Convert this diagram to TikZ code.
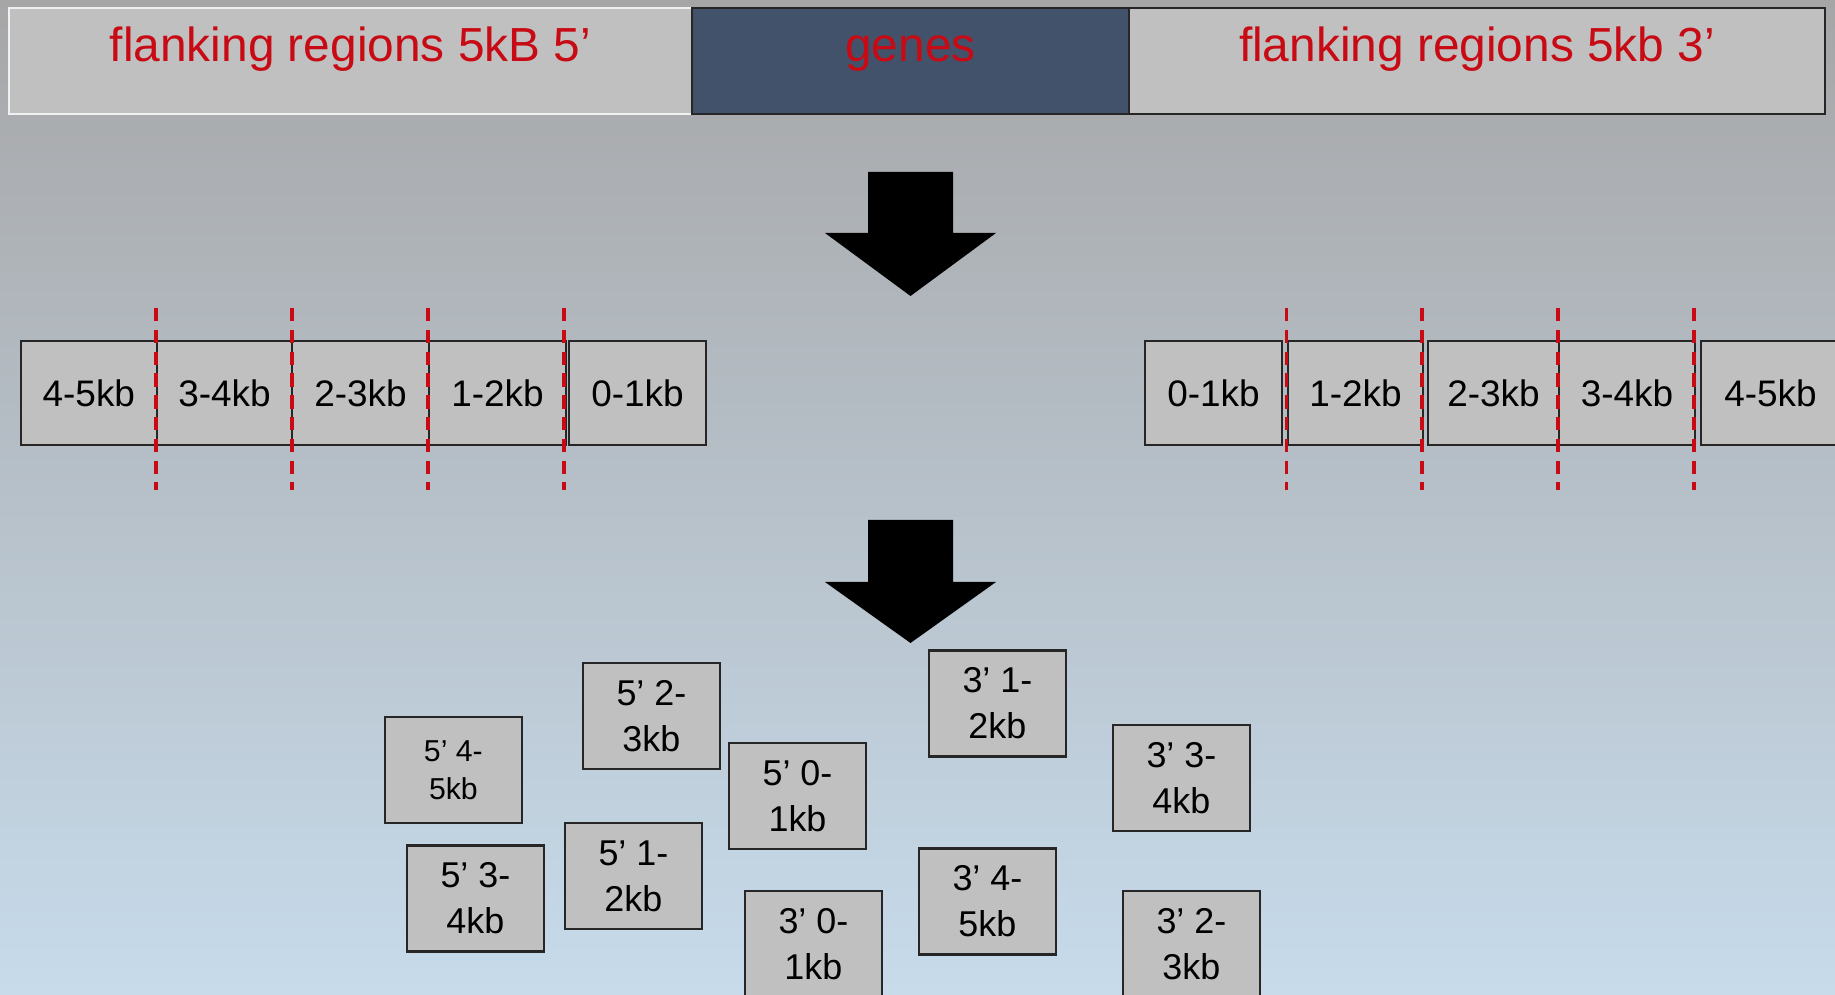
\documentclass[tikz,border=0pt]{standalone}
\usepackage{fontspec}
\setmainfont{Liberation Sans}

\definecolor{bgtop}{RGB}{166,166,167}
\definecolor{bgbottom}{RGB}{199,219,235}
\definecolor{boxgray}{RGB}{192,192,192}
\definecolor{genesblue}{RGB}{66,82,106}
\definecolor{cutred}{RGB}{200,10,20}

\tikzset{
    titlebox/.style={draw=black!85, line width=0.5pt, fill=boxgray, inner sep=0pt, minimum height=1.06cm,
        text=cutred, font=\fontsize{13.6}{16}\selectfont, text height=0.45cm, text depth=0.43cm},
    segbox/.style={draw=black!85, line width=0.6pt, fill=boxgray, inner sep=0pt, minimum height=1.04cm,
        font=\fontsize{10.5}{12}\selectfont},
    piece/.style={draw=black!85, line width=0.6pt, fill=boxgray, inner sep=0pt, minimum width=1.37cm,
        minimum height=1.06cm, align=center, font=\fontsize{10.2}{13}\selectfont},
    cutline/.style={cutred, line width=0.9pt, dash pattern=on 3.8pt off 2.4pt},
}

\begin{document}
\begin{tikzpicture}[x=0.01cm, y=-0.01cm]
    % Background
    \useasboundingbox (0,0) rectangle (1835,995);
    \shade[top color=bgtop, bottom color=bgbottom] (0,0) rectangle (1835,995);

    % Top bar
    \node[titlebox, draw=white!88!gray, minimum width=6.83cm] (flank5) at (350.5,61) {flanking regions 5kB 5’};
    \node[titlebox, fill=genesblue, minimum width=4.37cm] (genes) at (910.5,61) {genes};
    \node[titlebox, minimum width=6.96cm] (flank3) at (1477,61) {flanking regions 5kb 3’};

    % Arrows
    \foreach \ya/\yb/\yc in {172/233/296, 520/582/643}
        \fill[black] (868,\ya) -- (953,\ya) -- (953,\yb) -- (996,\yb) -- (910.5,\yc)
            -- (825,\yb) -- (868,\yb) -- cycle;

    % Segments
    \foreach \p/\x/\w/\label in {l45/88.85/136.3/4-5kb, l34/224.5/135/3-4kb, l23/360.5/137/2-3kb,
            l12/497.5/137/1-2kb, l01/637.5/137/0-1kb, r01/1213.5/137/0-1kb, r12/1355.5/135/1-2kb,
            r23/1493.5/131/2-3kb, r34/1627/136/3-4kb, r45/1770.5/139/4-5kb}
        \node[segbox, minimum width=\w*0.01cm] (\p) at (\x,393) {\label};

    % Cuts
    \foreach \x in {156, 292, 428, 564, 1286.5, 1422, 1558, 1694}
        \draw[cutline] (\x,308) -- (\x,490);

    % Pieces
    \node[piece, font=\fontsize{8.6}{10.9}\selectfont] (p54) at (453.4,770) {5’ 4-\\5kb};
    \foreach \p/\x/\y/\label in {p52/651.4/716/5’ 2-\\3kb, p50/797.5/796/5’ 0-\\1kb,
            p53/475.4/898.5/5’ 3-\\4kb, p51/633.4/876/5’ 1-\\2kb, q30/813.4/944/3’ 0-\\1kb,
            q31/997.4/703.5/3’ 1-\\2kb, q33/1181.4/778.4/3’ 3-\\4kb, q34/987.4/901.5/3’ 4-\\5kb,
            q32/1191.4/944/3’ 2-\\3kb}
        \node[piece] (\p) at (\x,\y) {\label};
\end{tikzpicture}
\end{document}
